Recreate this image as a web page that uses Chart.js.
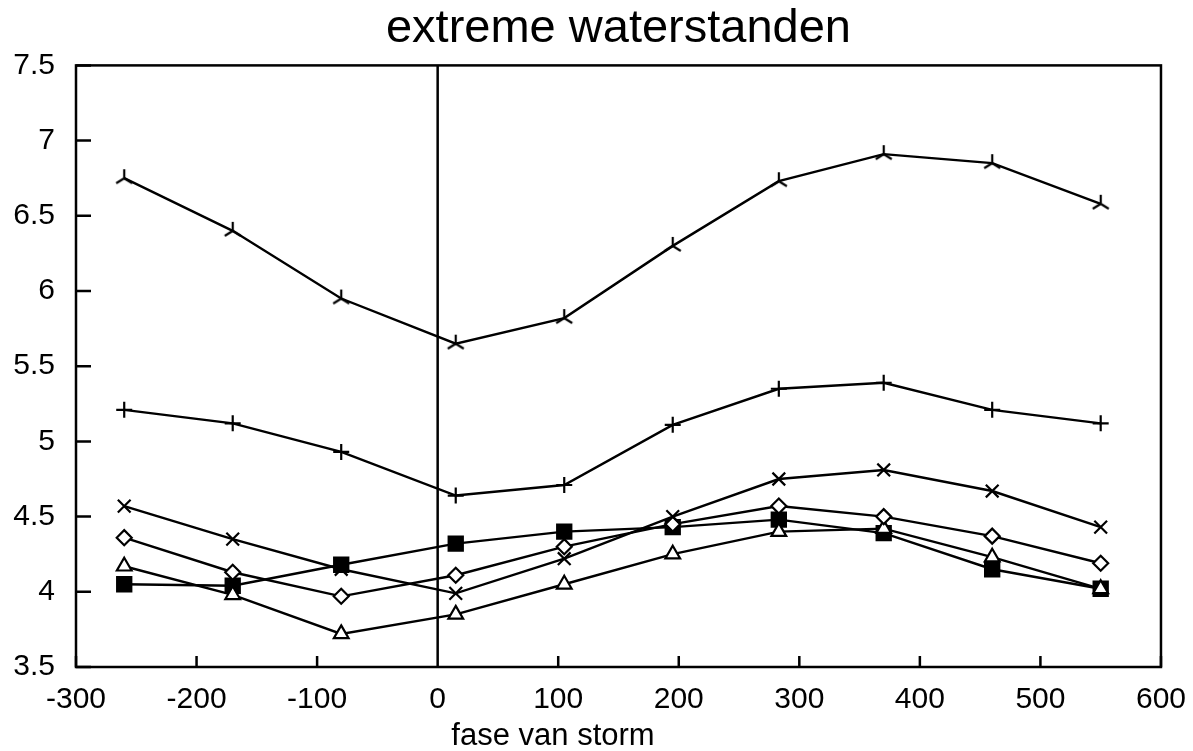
<!DOCTYPE html>
<html>
<head>
<meta charset="utf-8">
<script src="https://cdn.jsdelivr.net/npm/chart.js@4/dist/chart.umd.min.js"></script>
<style>
  html, body { margin: 0; padding: 0; background: #fff; }
  #wrap { width: 1193px; height: 751px; }
</style>
</head>
<body>
<div id="wrap"><canvas id="c" width="1193" height="751"></canvas></div>
<script>
const phases = [-260, -170, -80, 15, 105, 195, 283, 370, 460, 550];
const triSeries = [6.75, 6.40, 5.95, 5.65, 5.82, 6.30, 6.73, 6.91, 6.85, 6.58];
const plusSeries = [5.21, 5.12, 4.93, 4.64, 4.71, 5.11, 5.35, 5.39, 5.21, 5.12];
const crossSeries = [4.57, 4.35, 4.15, 3.99, 4.22, 4.50, 4.75, 4.81, 4.67, 4.43];
const diamondSeries = [4.36, 4.13, 3.97, 4.11, 4.30, 4.45, 4.57, 4.50, 4.37, 4.19];
const triangleSeries = [4.17, 3.98, 3.72, 3.85, 4.05, 4.25, 4.40, 4.42, 4.23, 4.02];
const squareSeries = [4.05, 4.04, 4.18, 4.32, 4.40, 4.43, 4.48, 4.39, 4.15, 4.02];
const xTicks = [-300, -200, -100, 0, 100, 200, 300, 400, 500, 600];
const yTicks = [3.5, 4, 4.5, 5, 5.5, 6, 6.5, 7, 7.5];
const xTitle = 'fase van storm';

// inverted "Y" marker
function triMarker() {
  const m = document.createElement('canvas');
  m.width = 22; m.height = 22;
  const g = m.getContext('2d');
  g.strokeStyle = '#000';
  g.lineWidth = 2.2;
  g.beginPath();
  g.moveTo(11, 11); g.lineTo(11, 2);
  g.moveTo(11, 11); g.lineTo(3, 16);
  g.moveTo(11, 11); g.lineTo(19, 16);
  g.stroke();
  return m;
}

function pts(vals) {
  return vals.map((v, i) => ({ x: phases[i], y: v }));
}

function series(vals, style, radius, fill) {
  return {
    data: pts(vals),
    showLine: true,
    borderColor: '#000',
    borderWidth: 2.4,
    pointStyle: style,
    pointRadius: radius,
    pointBorderWidth: 2.2,
    pointBorderColor: '#000',
    pointBackgroundColor: fill,
    tension: 0
  };
}

const frame = {
  id: 'frame',
  afterDatasetsDraw(chart) {
    const { ctx, chartArea: a, scales } = chart;
    ctx.save();
    ctx.strokeStyle = '#000';
    ctx.lineWidth = 2.5;
    ctx.strokeRect(a.left, a.top, a.right - a.left, a.bottom - a.top);
    ctx.beginPath();
    const x0 = scales.x.getPixelForValue(0);
    ctx.moveTo(x0, a.top); ctx.lineTo(x0, a.bottom);
    xTicks.forEach(t => {
      const px = scales.x.getPixelForValue(t);
      ctx.moveTo(px, a.bottom); ctx.lineTo(px, a.bottom - 11);
    });
    yTicks.forEach(t => {
      const py = scales.y.getPixelForValue(t);
      ctx.moveTo(a.left, py); ctx.lineTo(a.left + 15, py);
    });
    ctx.stroke();
    // axis title, sits left of centre in the original
    ctx.fillStyle = '#000';
    ctx.font = '31px "Liberation Sans"';
    ctx.textAlign = 'center';
    ctx.textBaseline = 'alphabetic';
    ctx.fillText(xTitle, 553, 745);
    ctx.restore();
  }
};

new Chart(document.getElementById('c'), {
  type: 'scatter',
  data: {
    datasets: [
      series(triSeries, triMarker(), 10, '#000'),
      series(plusSeries, 'cross', 8, '#000'),
      series(crossSeries, 'crossRot', 9, '#000'),
      series(diamondSeries, 'rectRot', 7.5, '#fff'),
      series(triangleSeries, 'triangle', 8.5, '#fff'),
      series(squareSeries, 'rect', 10, '#000')
    ]
  },
  options: {
    responsive: false,
    animation: false,
    layout: { padding: { left: 0, right: 32, top: 0, bottom: 0 } },
    plugins: {
      legend: { display: false },
      tooltip: { enabled: false },
      title: {
        display: true,
        fullSize: false,
        text: 'extreme waterstanden',
        color: '#000',
        font: { family: 'Liberation Sans', size: 47, weight: 'normal' },
        padding: { top: 1, bottom: 8 }
      }
    },
    scales: {
      x: {
        type: 'linear',
        min: -300, max: 600,
        afterBuildTicks: s => { s.ticks = xTicks.map(v => ({ value: v })); },
        afterFit: s => { s.height = 84; },
        grid: { display: false },
        border: { display: false },
        ticks: {
          color: '#000',
          padding: 7,
          font: { family: 'Liberation Sans', size: 30 },
          maxRotation: 0,
          callback: v => String(v)
        }
      },
      y: {
        type: 'linear',
        min: 3.5, max: 7.5,
        afterBuildTicks: s => { s.ticks = yTicks.map(v => ({ value: v })); },
        afterFit: s => { s.width = 76; },
        grid: { display: false },
        border: { display: false },
        ticks: {
          color: '#000',
          padding: 13,
          font: { family: 'Liberation Sans', size: 30 },
          callback: v => String(v)
        }
      }
    }
  },
  plugins: [frame]
});
</script>
</body>
</html>
